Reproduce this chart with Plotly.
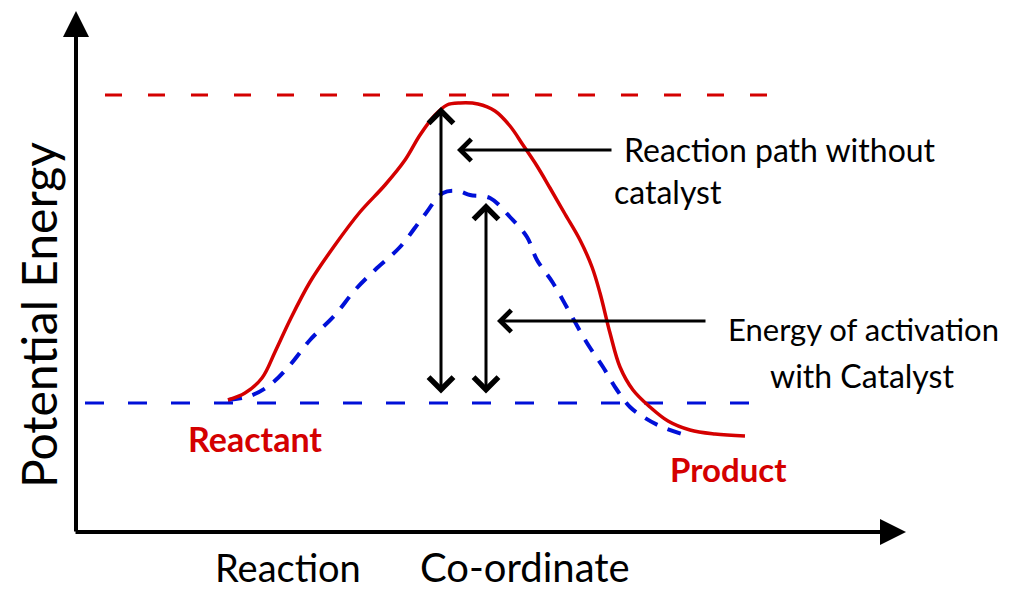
import plotly.graph_objects as go

# Reaction coordinate / potential energy readings (arbitrary units)
uncat_x = [228, 245, 262, 275, 290, 310, 335, 360, 385, 405, 420, 435, 447, 460, 478, 495, 510, 523, 537, 550, 565, 580, 592, 600, 610, 620, 633, 650, 668, 690, 715, 745]
uncat_e = [189, 196, 211, 237, 269, 307, 344, 377, 404, 429, 454, 474, 484, 486, 485, 478, 463, 444, 423, 401, 375, 349, 322, 296, 256, 222, 199, 182, 168, 159, 155, 153]

cat_x = [228, 250, 270, 290, 310, 335, 355, 375, 400, 423, 443, 458, 470, 490, 510, 527, 537, 553, 570, 587, 603, 617, 630, 645, 662, 685]
cat_e = [189, 193, 204, 224, 249, 274, 299, 319, 342, 372, 396, 398, 394, 391, 372, 352, 329, 306, 276, 246, 222, 199, 182, 171, 162, 154]

reactant_level = 186
transition_uncat = 494

RED = "#d40000"
BLUE = "#0010d8"
FONT = "Liberation Sans Narrow, Lato, sans-serif"

fig = go.Figure()

# reference dashed levels
fig.add_trace(go.Scatter(x=[105, 790], y=[transition_uncat, transition_uncat], mode="lines",
                         line=dict(color=RED, width=3, dash="17px,26px"), hoverinfo="skip"))
fig.add_trace(go.Scatter(x=[85, 770], y=[reactant_level, reactant_level], mode="lines",
                         line=dict(color=BLUE, width=3, dash="19px,24px"), hoverinfo="skip"))

# energy curves
fig.add_trace(go.Scatter(x=cat_x, y=cat_e, mode="lines", line=dict(color=BLUE, width=4, dash="14px,11px", shape="spline"),
                         hoverinfo="skip"))
fig.add_trace(go.Scatter(x=uncat_x, y=uncat_e, mode="lines", line=dict(color=RED, width=3.5, shape="spline"),
                         hoverinfo="skip"))

ann = []
def arrow(x0, y0, x1, y1, width=3, head=2, size=1.2, both=False):
    d = dict(x=x1, y=y1, ax=x0, ay=y0, xref="x", yref="y", axref="x", ayref="y",
             showarrow=True, arrowhead=head, arrowwidth=width, arrowsize=size, arrowcolor="black", text="")
    if both:
        d.update(arrowside="end+start", startarrowhead=head, startarrowsize=size)
    ann.append(d)

# axes with arrowheads
arrow(76, 56, 76, 578, width=4, head=2, size=1.3)
arrow(74, 57, 906, 57, width=4, head=2, size=1.3)

# activation energy arrows
arrow(441, 194, 441, 482, width=3, head=4, size=1.6, both=True)
arrow(486, 194, 486, 386, width=3, head=4, size=1.6, both=True)
# pointer arrows
arrow(613, 439, 457, 439, width=3, head=4, size=1.4)
arrow(707, 268, 497, 268, width=3, head=4, size=1.4)

def text(x, y, s, size=26, color="black", anchor="left", angle=0, bold=False):
    if bold:
        s = "<b>" + s + "</b>"
    ann.append(dict(x=x, y=y, xref="x", yref="y", text=s, showarrow=False, xanchor=anchor, yanchor="middle",
                    textangle=angle, font=dict(family=FONT, size=size, color=color)))

text(622, 440, "Reaction path without", size=32)
text(612, 398, "catalyst", size=32)
text(726, 260, "Energy of activation", size=31)
text(768, 214, "with Catalyst", size=32)
text(186, 151, "Reactant", size=34, color=RED, bold=True)
text(668, 120, "Product", size=33, color=RED, bold=True)
text(213, 22, "Reaction", size=38)
text(418, 22, "Co-ordinate", size=40)
text(38, 274, "Potential Energy", size=48, anchor="center", angle=-90)

# the page has an 8px body margin; offset the ranges so marks land where they are in the picture
fig.update_layout(
    width=1009, height=589, margin=dict(l=0, r=0, t=0, b=0),
    paper_bgcolor="white", plot_bgcolor="white", showlegend=False,
    xaxis=dict(range=[8, 1017], visible=False, fixedrange=True),
    yaxis=dict(range=[-8, 581], visible=False, fixedrange=True),
    annotations=ann,
)

fig.write_html("out.html")
